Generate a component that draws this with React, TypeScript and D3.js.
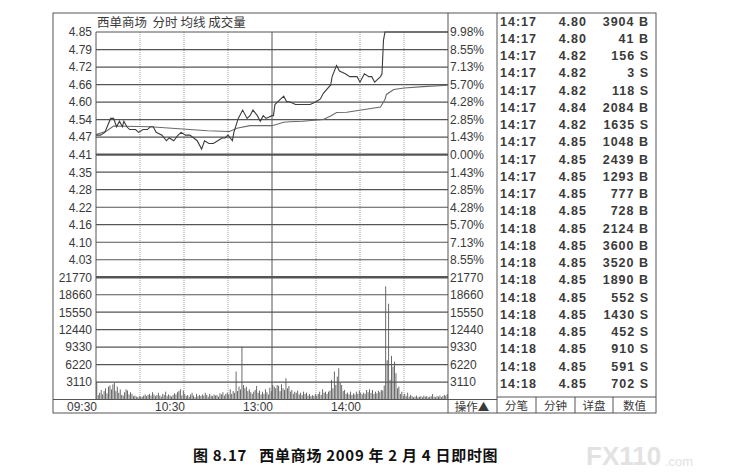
import React, { useEffect, useRef } from 'react';
import * as d3 from 'd3';

// 西单商场 2009-02-04 分时图
const preClose = 4.41;
const pctTicks = [9.98, 8.55, 7.13, 5.70, 4.28, 2.85, 1.43, 0, -1.43, -2.85, -4.28, -5.70, -7.13, -8.55];
const priceTicks = [4.85, 4.79, 4.72, 4.66, 4.60, 4.54, 4.47, 4.41, 4.35, 4.28, 4.22, 4.16, 4.10, 4.03];
const volTicks = [21770, 18660, 15550, 12440, 9330, 6220, 3110];
const timeLabels = ['09:30', '10:30', '13:00', '14:00'];
const timeLabelMinutes = [0, 60, 120, 180];
const gridMinutes = [30, 60, 90, 120, 150, 180, 210];

// minute index from 09:30 (0..240, 11:30/13:00 = 120)
const priceMin = [0, 3, 6, 10, 12, 14, 16, 18, 19, 21, 23, 27, 29, 32, 35, 37, 39, 41, 45, 48, 50, 53, 56, 58, 61, 64, 69, 72, 74, 77, 80, 83, 86, 88, 90, 93, 94, 97, 100, 103, 105, 107, 110, 112, 114, 116, 120,
  121, 122, 124, 128, 130, 132, 136, 141, 146, 150, 153, 155, 160, 161, 164, 166, 170, 173, 178, 180, 183, 186, 188, 190, 194, 195, 196, 197, 240];
const priceVal = [4.48, 4.48, 4.49, 4.54, 4.54, 4.51, 4.53, 4.51, 4.53, 4.51, 4.50, 4.50, 4.49, 4.50, 4.50, 4.51, 4.51, 4.49, 4.48, 4.46, 4.47, 4.46, 4.48, 4.49, 4.48, 4.48, 4.46, 4.43, 4.46, 4.45, 4.45, 4.46, 4.47, 4.47, 4.48, 4.46, 4.49, 4.54, 4.57, 4.54, 4.55, 4.57, 4.55, 4.53, 4.55, 4.54, 4.55,
  4.55, 4.59, 4.60, 4.62, 4.60, 4.60, 4.59, 4.59, 4.59, 4.60, 4.61, 4.63, 4.66, 4.69, 4.73, 4.71, 4.70, 4.69, 4.69, 4.67, 4.70, 4.69, 4.69, 4.67, 4.69, 4.70, 4.82, 4.85, 4.85];
const avgMin = [0, 7, 12, 19, 37, 59, 76, 91, 96, 105, 120, 128, 132, 141, 155, 160, 164, 171, 194, 197, 198, 203, 210, 223, 240];
const avgVal = [4.482, 4.494, 4.513, 4.512, 4.510, 4.502, 4.496, 4.493, 4.505, 4.514, 4.514, 4.526, 4.528, 4.530, 4.536, 4.549, 4.561, 4.562, 4.581, 4.608, 4.626, 4.644, 4.649, 4.654, 4.659];

const volumes = [
  3180, 800, 1200, 1700, 900, 1500, 2000, 1100, 2290, 2500,
  1800, 2700, 3000, 1500, 2290, 1200, 1800, 800, 700, 1300,
  1800, 1600, 900, 1300, 1000, 600, 700, 500, 400, 600,
  500, 500, 700, 900, 600, 800, 1000, 700, 1300, 900,
  600, 800, 1200, 700, 500, 1000, 800, 1400, 600, 900,
  700, 500, 800, 1100, 900, 1300, 1500, 1820, 700, 1600,
  1000, 600, 800, 500, 900, 1200, 700, 400, 1000, 600,
  800, 600, 900, 700, 1200, 800, 500, 1000, 700, 600,
  900, 700, 800, 500, 1100, 900, 1300, 700, 1000, 1200,
  900, 1820, 1000, 1500, 1200, 4970, 1500, 2290, 1800, 9440,
  2590, 2000, 2290, 1500, 1820, 1300, 1000, 1400, 1700, 2410,
  1200, 1600, 900, 1400, 1000, 1820, 1300, 900, 2100, 1500,
  2590, 2290, 2000, 2590, 2410, 1500, 2710, 2000, 1700, 3780,
  2000, 2410, 1400, 1700, 1000, 1400, 1200, 1580, 900, 1220,
  800, 1400, 1000, 1220, 700, 980, 600, 800, 600, 980,
  700, 1000, 1400, 800, 1820, 1200, 1400, 1000, 1400, 1600,
  3490, 2000, 4980, 2600, 4080, 5570, 3000, 2590, 1500, 1700,
  1000, 1220, 900, 1400, 800, 1100, 900, 1400, 1000, 1580,
  1200, 900, 1220, 1000, 1700, 1300, 1820, 1200, 1700, 1000,
  1400, 1100, 1580, 1300, 1700, 1600, 2500, 20160, 7000, 17070,
  3480, 7770, 5860, 6750, 4680, 2000, 2290, 1000, 1400, 700,
  1000, 600, 1220, 500, 800, 600, 400, 500, 700, 400,
  500, 600, 400, 700, 500, 600, 400, 500, 600, 980,
  500, 400, 600, 500, 700, 400, 600, 800, 700, 980,
];

const tradeTimes = ['14:17', '14:17', '14:17', '14:17', '14:17', '14:17', '14:17', '14:17', '14:17', '14:17', '14:17',
  '14:18', '14:18', '14:18', '14:18', '14:18', '14:18', '14:18', '14:18', '14:18', '14:18', '14:18'];
const tradePrices = [4.80, 4.80, 4.82, 4.82, 4.82, 4.84, 4.82, 4.85, 4.85, 4.85, 4.85,
  4.85, 4.85, 4.85, 4.85, 4.85, 4.85, 4.85, 4.85, 4.85, 4.85, 4.85];
const tradeVols = [3904, 41, 156, 3, 118, 2084, 1635, 1048, 2439, 1293, 777, 728, 2124, 3600, 3520, 1890, 552, 1430, 452, 910, 591, 702];
const tradeSides = ['B', 'B', 'S', 'S', 'S', 'B', 'S', 'B', 'B', 'B', 'B', 'B', 'B', 'B', 'B', 'B', 'S', 'S', 'S', 'S', 'S', 'S'];
const tabs = ['分笔', '分钟', '详盘', '数值'];

export default function App() {
  const svgRef = useRef<SVGSVGElement>(null);
  const width = 739;
  const height = 476;

  useEffect(() => {
    if (!svgRef.current) return;
    const svg = d3.select(svgRef.current);
    svg.selectAll('*').remove();

    const frame = { left: 53, top: 13, right: 656, bottom: 413 };
    const plot = { left: 96, right: 448, top: 32, mid: 277.3, bottom: 399.5 };
    const tableLeft = 497;
    const labelFont = '"Liberation Sans", Arial, sans-serif';
    const cjkFont = '"Noto Sans CJK SC", sans-serif';
    const ink = '#3a3a3a';

    svg.append('rect').attr('width', width).attr('height', height).attr('fill', '#fff');

    const x = d3.scaleLinear().domain([0, 240]).range([plot.left, plot.right]);
    const y = d3.scaleLinear()
      .domain([preClose * (1 - 0.0998), preClose * (1 + 0.0998)])
      .range([plot.mid, plot.top]);
    const yv = d3.scaleLinear().domain([0, 21770]).range([plot.bottom, plot.mid]);

    // frame
    const g = svg.append('g');
    g.append('rect').attr('x', frame.left).attr('y', frame.top)
      .attr('width', frame.right - frame.left).attr('height', frame.bottom - frame.top)
      .attr('fill', 'none').attr('stroke', '#555').attr('stroke-width', 1);
    g.append('line').attr('x1', plot.right).attr('x2', plot.right).attr('y1', frame.top).attr('y2', frame.bottom)
      .attr('stroke', '#555');
    g.append('line').attr('x1', tableLeft).attr('x2', tableLeft).attr('y1', frame.top).attr('y2', frame.bottom)
      .attr('stroke', '#555');
    g.append('line').attr('x1', plot.left).attr('x2', plot.left).attr('y1', plot.top).attr('y2', plot.bottom)
      .attr('stroke', '#555');
    g.append('line').attr('x1', frame.left).attr('x2', tableLeft).attr('y1', plot.bottom).attr('y2', plot.bottom)
      .attr('stroke', '#555');

    // vertical time grid
    g.selectAll('line.vgrid').data(gridMinutes).enter().append('line')
      .attr('x1', d => x(d)).attr('x2', d => x(d)).attr('y1', plot.top).attr('y2', plot.bottom)
      .attr('stroke', d => d === 120 ? '#555' : '#888')
      .attr('stroke-width', d => d === 120 ? 1 : 0.8)
      .attr('stroke-dasharray', d => d === 120 ? null : '1,1');

    // price grid
    g.selectAll('line.pgrid').data(pctTicks).enter().append('line')
      .attr('x1', plot.left).attr('x2', plot.right)
      .attr('y1', d => y(preClose * (1 + d / 100))).attr('y2', d => y(preClose * (1 + d / 100)))
      .attr('stroke', '#555').attr('stroke-width', d => d === 0 ? 2.4 : 1.2);
    g.append('line').attr('x1', plot.left).attr('x2', plot.right).attr('y1', plot.mid).attr('y2', plot.mid)
      .attr('stroke', '#555').attr('stroke-width', 2.4);
    g.selectAll('line.vgridh').data(volTicks.slice(1)).enter().append('line')
      .attr('x1', plot.left).attr('x2', plot.right).attr('y1', d => yv(d)).attr('y2', d => yv(d))
      .attr('stroke', '#555').attr('stroke-width', 1.2);

    // left labels
    g.selectAll('text.pl').data(priceTicks).enter().append('text')
      .attr('x', 92).attr('y', (_, i) => y(preClose * (1 + pctTicks[i] / 100))).attr('dy', '0.36em')
      .attr('text-anchor', 'end').attr('fill', ink).style('font-family', labelFont).style('font-size', '12px')
      .text(d => d.toFixed(2));
    g.selectAll('text.vl').data(volTicks).enter().append('text')
      .attr('x', 92).attr('y', d => yv(d)).attr('dy', '0.36em')
      .attr('text-anchor', 'end').attr('fill', ink).style('font-family', labelFont).style('font-size', '12px')
      .text(d => String(d));

    // right labels
    g.selectAll('text.pr').data(pctTicks).enter().append('text')
      .attr('x', plot.right + 2).attr('y', d => y(preClose * (1 + d / 100))).attr('dy', '0.36em')
      .attr('fill', ink).style('font-family', labelFont).style('font-size', '12px')
      .text(d => Math.abs(d).toFixed(2) + '%');
    g.selectAll('text.vr').data(volTicks).enter().append('text')
      .attr('x', plot.right + 2).attr('y', d => yv(d)).attr('dy', '0.36em')
      .attr('fill', ink).style('font-family', labelFont).style('font-size', '12px')
      .text(d => String(d));

    // time labels
    g.selectAll('text.tl').data(timeLabels).enter().append('text')
      .attr('x', (_, i) => x(timeLabelMinutes[i]) + 1).attr('y', 406.5).attr('dy', '0.36em')
      .attr('text-anchor', 'end').attr('fill', ink).style('font-family', labelFont).style('font-size', '12px')
      .text(d => d);
    g.append('text').attr('x', 472).attr('y', 406.5).attr('dy', '0.36em').attr('text-anchor', 'middle')
      .attr('fill', ink).style('font-family', cjkFont).style('font-size', '11.5px').text('操作▲');

    // title
    g.append('text').attr('x', 97).attr('y', 22.5).attr('dy', '0.36em').attr('fill', ink)
      .style('font-family', cjkFont).style('font-size', '12.5px').attr('xml:space', 'preserve')
      .text('西单商场  分时 均线 成交量');

    // volume bars
    g.selectAll('rect.vol').data(volumes).enter().append('rect')
      .attr('x', (_, i) => x(i) + 0.3).attr('width', 0.9)
      .attr('y', d => yv(d)).attr('height', d => yv(0) - yv(d))
      .attr('fill', '#5a5a5a');

    // price and average lines
    const line = d3.line<number>().x((_, i) => x(avgMin[i])).y(d => y(d));
    g.append('path').datum(avgVal).attr('fill', 'none').attr('stroke', '#6a6a6a').attr('stroke-width', 1.1).attr('d', line);
    const pline = d3.line<number>().x((_, i) => x(priceMin[i])).y(d => y(d));
    g.append('path').datum(priceVal).attr('fill', 'none').attr('stroke', '#3c3c3c').attr('stroke-width', 1.1).attr('d', pline);

    // trade table
    const rowY = (i: number) => 21 + i * 17.25;
    const tf = '"Liberation Sans", Arial, sans-serif';
    const rows = g.selectAll('g.row').data(tradeTimes).enter().append('g');
    rows.append('text').attr('x', 500).attr('y', (_, i) => rowY(i)).attr('dy', '0.36em')
      .attr('fill', ink).style('font-family', tf).style('font-weight', 'bold').style('font-size', '12.5px')
      .style('letter-spacing', '1px').text(d => d);
    rows.append('text').attr('x', 587).attr('y', (_, i) => rowY(i)).attr('dy', '0.36em').attr('text-anchor', 'end')
      .attr('fill', ink).style('font-family', tf).style('font-weight', 'bold').style('font-size', '12.5px')
      .style('letter-spacing', '1px').text((_, i) => tradePrices[i].toFixed(2));
    rows.append('text').attr('x', 649).attr('y', (_, i) => rowY(i)).attr('dy', '0.36em').attr('text-anchor', 'end')
      .attr('fill', ink).style('font-family', tf).style('font-weight', 'bold').style('font-size', '12.5px')
      .style('letter-spacing', '1px').attr('xml:space', 'preserve').text((_, i) => `${tradeVols[i]} ${tradeSides[i]}`);

    // tabs
    g.append('line').attr('x1', tableLeft).attr('x2', frame.right).attr('y1', 397).attr('y2', 397).attr('stroke', '#555');
    const tabEdges = [tableLeft, 536, 575, 613, frame.right];
    g.selectAll('line.tab').data(tabEdges.slice(1, 4)).enter().append('line')
      .attr('x1', d => d).attr('x2', d => d).attr('y1', 397).attr('y2', frame.bottom).attr('stroke', '#555');
    g.selectAll('text.tab').data(tabs).enter().append('text')
      .attr('x', (_, i) => (tabEdges[i] + tabEdges[i + 1]) / 2).attr('y', 405.5).attr('dy', '0.36em')
      .attr('text-anchor', 'middle').attr('fill', ink).style('font-family', cjkFont).style('font-size', '11.5px')
      .text(d => d);

    // caption
    svg.append('text').attr('x', 193).attr('y', 456).attr('dy', '0.36em').attr('fill', '#111')
      .style('font-family', cjkFont).style('font-weight', 'bold').style('font-size', '15px')
      .style('letter-spacing', '0.7px')
      .attr('xml:space', 'preserve').text('图 8.17   西单商场 2009 年 2 月 4 日即时图');
    svg.append('text').attr('x', 586).attr('y', 456).attr('dy', '0.36em').attr('fill', '#e2e2e2')
      .style('font-family', '"Liberation Sans", Arial, sans-serif').style('font-weight', 'bold').style('font-size', '26px')
      .text('FX110');
    svg.append('text').attr('x', 665).attr('y', 461).attr('dy', '0.36em').attr('fill', '#e2e2e2')
      .style('font-family', '"Liberation Sans", Arial, sans-serif').style('font-size', '13px')
      .text('.com');
  }, []);

  return (
    <svg ref={svgRef} width={width} height={height} viewBox={`0 0 ${width} ${height}`}
      style={{ position: 'absolute', left: 0, top: 0, display: 'block' }} />
  );
}
